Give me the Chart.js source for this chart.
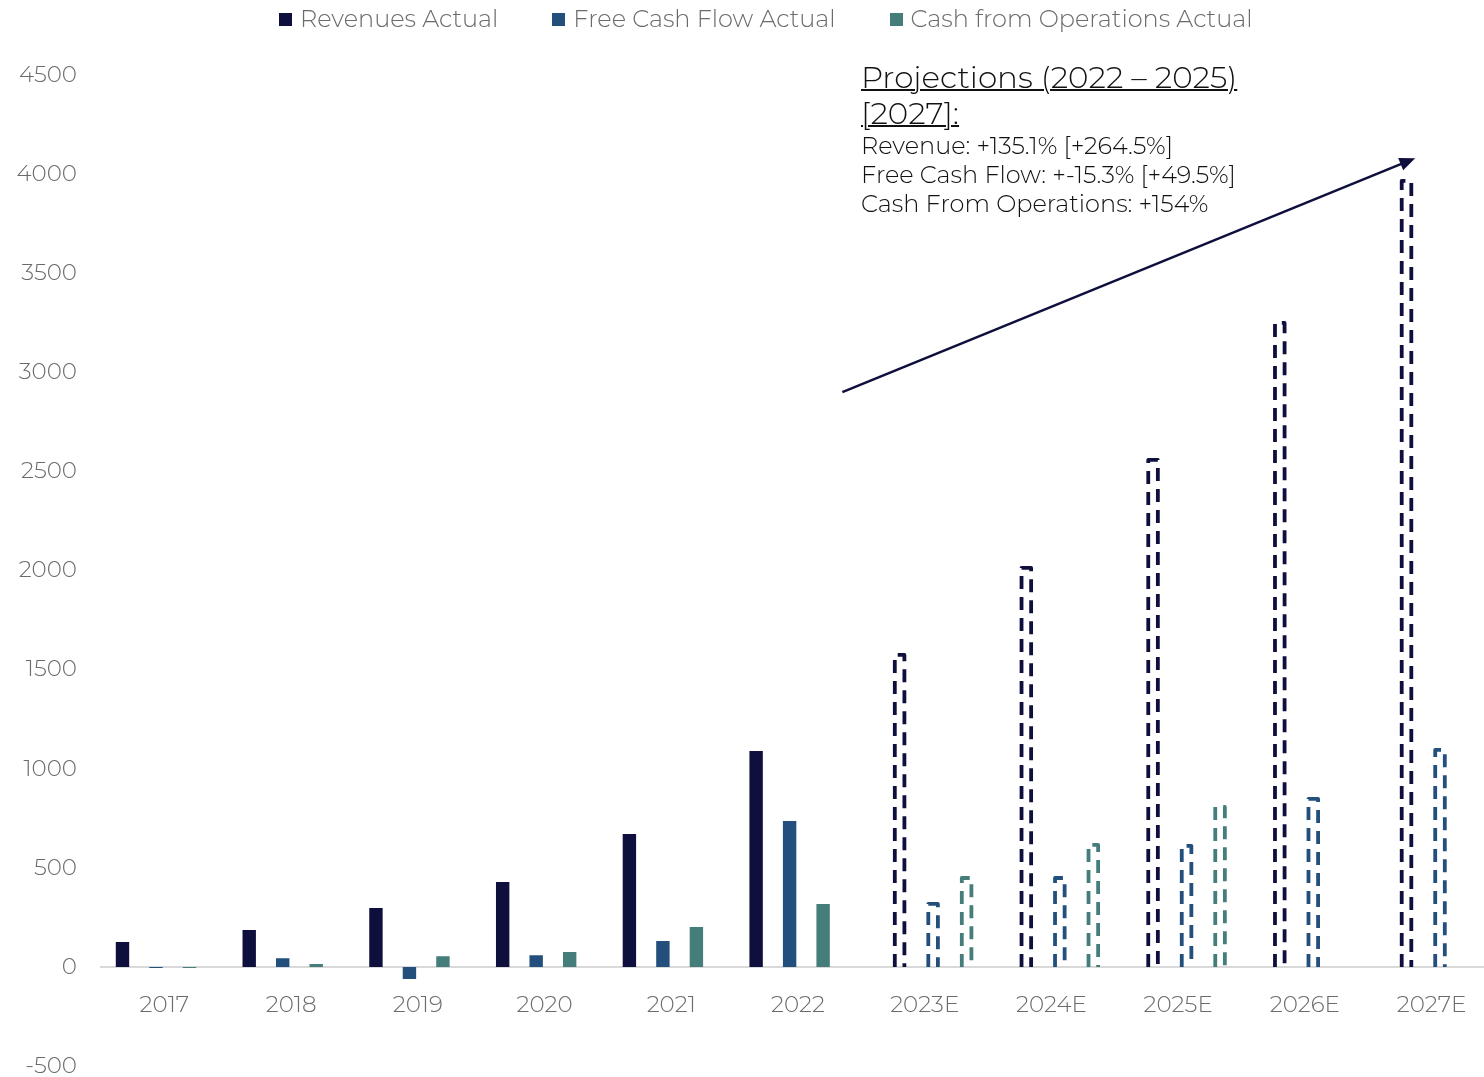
<!DOCTYPE html>
<html lang="en">
<head>
    <meta charset="UTF-8">
    <title>Revenues, Free Cash Flow and Cash from Operations</title>
    <style>
        body {
            margin: 0;
            padding: 0;
            background: #ffffff;
            font-family: 'Montserrat', 'Open Sans', 'Noto Sans', sans-serif;
            overflow: hidden;
        }
        .wrap {
            position: relative;
            width: 1484px;
            height: 1077px;
            overflow: hidden;
        }
        .chart-box {
            position: absolute;
            left: 0;
            top: 0;
            width: 1500px;
            height: 1104px;
        }
        .legend {
            position: absolute;
            left: 279px;
            top: 4px;
            display: flex;
            gap: 54px;
            font-size: 24px;
            font-weight: 300;
            color: #6b6b6b;
            line-height: 30px;
        }
        .legend span.box {
            display: inline-block;
            width: 13px;
            height: 13px;
            margin-right: 8px;
            vertical-align: 1px;
        }
        .note {
            position: absolute;
            left: 861px;
            top: 59px;
            color: #111111;
            font-weight: 300;
        }
        .note .title {
            font-size: 31px;
            line-height: 36px;
            text-decoration: underline;
            text-decoration-thickness: 2px;
        }
        .note .line {
            font-size: 24px;
            line-height: 29px;
        }
    </style>
</head>
<body>
    <div class="wrap">
        <div class="chart-box">
            <canvas id="myChart" width="1500" height="1104"></canvas>
        </div>
        <div class="legend" id="legend"></div>
        <div class="note">
            <div class="title">Projections (2022 – 2025)<br>[2027]:</div>
            <div class="line">Revenue: +135.1% [+264.5%]</div>
            <div class="line">Free Cash Flow: +-15.3% [+49.5%]</div>
            <div class="line">Cash From Operations: +154%</div>
        </div>
    </div>

    <script src="https://cdn.jsdelivr.net/npm/chart.js"></script>
    <script>
        // dados
        const anos = ['2017', '2018', '2019', '2020', '2021', '2022', '2023E', '2024E', '2025E', '2026E', '2027E'];
        const receitaReal = [126, 187, 298, 429, 671, 1090, null, null, null, null, null];
        const fclReal = [-5, 45, -60, 60, 131, 737, null, null, null, null, null];
        const caixaOpReal = [-5, 15, 55, 76, 202, 318, null, null, null, null, null];
        const receitaProj = [null, null, null, null, null, null, 1584, 2023, 2568, 3259, 3976];
        const fclProj = [null, null, null, null, null, null, 328, 459, 621, 858, 1105];
        const caixaOpProj = [null, null, null, null, null, null, 459, 626, 817, null, null];
        const ticksY = [-500, 0, 500, 1000, 1500, 2000, 2500, 3000, 3500, 4000, 4500];

        // seta de tendência (posição em valores das escalas)
        const setaInicio = [5.35, 2900];
        const setaFim = [9.87, 4080];

        const corReceita = '#0f0f3e';
        const corFcl = '#234f7c';
        const corCaixa = '#457d7b';
        const corTexto = '#6b6b6b';

        // barras projetadas: contorno tracejado
        const tracejado = {
            id: 'tracejado',
            afterDatasetsDraw(chart) {
                const ctx = chart.ctx;
                chart.data.datasets.forEach((ds, i) => {
                    if (!ds.projetado) return;
                    const meta = chart.getDatasetMeta(i);
                    meta.data.forEach((el, j) => {
                        if (ds.data[j] === null) return;
                        const p = el.getProps(['x', 'y', 'base', 'width'], true);
                        const lw = 3.8;
                        const esq = p.x - p.width / 2 + lw / 2;
                        const dir = p.x + p.width / 2 - lw / 2;
                        ctx.save();
                        ctx.strokeStyle = ds.corLinha;
                        ctx.lineWidth = lw;
                        ctx.setLineDash([13, 8]);
                        ctx.lineJoin = 'round';
                        ctx.beginPath();
                        ctx.moveTo(esq, p.base);
                        ctx.lineTo(esq, p.y + lw / 2);
                        ctx.lineTo(dir, p.y + lw / 2);
                        ctx.lineTo(dir, p.base);
                        ctx.stroke();
                        ctx.restore();
                    });
                });
            }
        };

        const seta = {
            id: 'seta',
            afterDraw(chart) {
                const ctx = chart.ctx;
                const x = chart.scales.x, y = chart.scales.y;
                const x1 = x.getPixelForValue(setaInicio[0]), y1 = y.getPixelForValue(setaInicio[1]);
                const x2 = x.getPixelForValue(setaFim[0]), y2 = y.getPixelForValue(setaFim[1]);
                const ang = Math.atan2(y2 - y1, x2 - x1);
                const tam = 17;
                ctx.save();
                ctx.strokeStyle = corReceita;
                ctx.fillStyle = corReceita;
                ctx.lineWidth = 2.5;
                ctx.beginPath();
                ctx.moveTo(x1, y1);
                ctx.lineTo(x2 - Math.cos(ang) * tam * 0.8, y2 - Math.sin(ang) * tam * 0.8);
                ctx.stroke();
                ctx.beginPath();
                ctx.moveTo(x2, y2);
                ctx.lineTo(x2 - tam * Math.cos(ang - 0.4), y2 - tam * Math.sin(ang - 0.4));
                ctx.lineTo(x2 - tam * Math.cos(ang + 0.4), y2 - tam * Math.sin(ang + 0.4));
                ctx.closePath();
                ctx.fill();
                ctx.restore();
            }
        };

        const fonte = { family: "'Montserrat', 'Open Sans', sans-serif", size: 23, weight: '300' };

        const ctx = document.getElementById('myChart').getContext('2d');
        const myChart = new Chart(ctx, {
            type: 'bar',
            data: {
                labels: anos,
                datasets: [
                    { label: 'Revenues Actual', data: receitaReal, backgroundColor: corReceita },
                    { label: 'Revenues Projected', data: receitaProj, backgroundColor: 'rgba(0,0,0,0)', projetado: true, corLinha: corReceita },
                    { label: 'Free Cash Flow Actual', data: fclReal, backgroundColor: corFcl },
                    { label: 'Free Cash Flow Projected', data: fclProj, backgroundColor: 'rgba(0,0,0,0)', projetado: true, corLinha: corFcl },
                    { label: 'Cash from Operations Actual', data: caixaOpReal, backgroundColor: corCaixa },
                    { label: 'Cash from Operations Projected', data: caixaOpProj, backgroundColor: 'rgba(0,0,0,0)', projetado: true, corLinha: corCaixa }
                ]
            },
            options: {
                responsive: false,
                animation: false,
                categoryPercentage: 0.793,
                barPercentage: 0.8,
                layout: { padding: { top: 75, bottom: 12, right: 5, left: 0 } },
                plugins: {
                    legend: { display: false },
                    tooltip: { enabled: false }
                },
                scales: {
                    x: {
                        position: { y: 0 },
                        grid: { display: false, drawTicks: false },
                        border: { display: true, color: '#d9d9d9', width: 2 },
                        ticks: { color: corTexto, font: fonte, padding: 24, maxRotation: 0 },
                        afterFit: (scale) => { scale.height = 0; }
                    },
                    y: {
                        min: -500,
                        max: 4500,
                        grid: { display: false, drawTicks: false },
                        border: { display: false },
                        afterBuildTicks: (scale) => { scale.ticks = ticksY.map(v => ({ value: v })); },
                        ticks: { color: corTexto, font: fonte, padding: 24, callback: (v) => String(v) },
                        afterFit: (scale) => { scale.width = 101; }
                    }
                }
            },
            plugins: [tracejado, seta]
        });

        // legenda em HTML, só séries reais
        const legenda = document.getElementById('legend');
        myChart.data.datasets.filter(ds => !ds.projetado).forEach(ds => {
            const item = document.createElement('div');
            item.innerHTML = '<span class="box" style="background:' + ds.backgroundColor + '"></span>' + ds.label;
            legenda.appendChild(item);
        });
    </script>
</body>
</html>
